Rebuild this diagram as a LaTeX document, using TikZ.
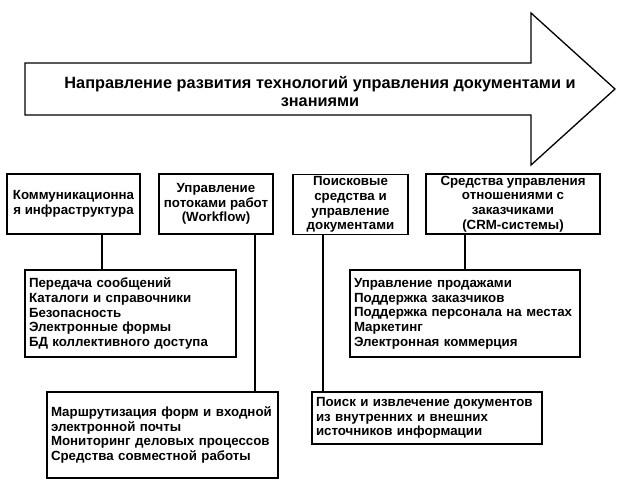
\documentclass[tikz,border=0pt]{standalone}
\usepackage{fontspec}
\setmainfont{Liberation Sans}
\begin{document}
\begin{tikzpicture}[x=1pt,y=-1pt,
  every node/.style={font=\bfseries\fontsize{13.3}{14.7}\selectfont},
  outline/.style={draw=black,line width=1.3pt},
  topbox/.style={outline,inner sep=0pt,align=center,minimum height=60pt},
  listbox/.style={outline,inner xsep=4pt,inner ysep=0pt,align=left},
  link/.style={draw=black,line width=1.3pt}]
\useasboundingbox (0,0) rectangle (617,480);
% big arrow
\draw[outline,line join=miter] (25,63) -- (531,63) -- (531,13) -- (615,89) -- (531,165) -- (531,115) -- (25,115) -- cycle;
\node[align=center,font=\bfseries\fontsize{16.3}{18}\selectfont] (title) at (320,91.5)
  {Направление развития технологий управления документами и\\знаниями};
% top boxes
\node[topbox,minimum width=133pt] (b1) at (73.5,204) {Коммуникационна\\я инфраструктура};
\node[topbox,minimum width=114pt] (b2) at (216,204) {Управление\\потоками работ\\(Workflow)};
\node[topbox,minimum width=115pt] (b3) at (350.5,204.5) {Поисковые\\средства и\\управление\\документами};
\node[topbox,minimum width=174pt] (b4) at (513,204) {Средства управления\\отношениями с\\заказчиками\\(CRM-системы)};
% list boxes
\node[listbox,text width=203pt,minimum height=87pt] (b5) at (130.5,313.5)
  {Передача сообщений\\Каталоги и справочники\\Безопасность\\Электронные формы\\БД коллективного доступа};
\node[listbox,text width=223pt,minimum height=86pt] (b6) at (162.5,435)
  {Маршрутизация форм и входной\\электронной почты\\Мониторинг деловых процессов\\Средства совместной работы};
\node[listbox,text width=222pt,minimum height=52pt] (b7) at (427,418)
  {Поиск и извлечение документов\\из внутренних и внешних\\источников информации};
\node[listbox,text width=222pt,minimum height=87pt] (b8) at (465,313.5)
  {Управление продажами\\Поддержка заказчиков\\Поддержка персонала на местах\\Маркетинг\\Электронная коммерция};
% connectors
\draw[link] ([xshift=28.5pt]b1.south) -- ([xshift=-28.5pt]b5.north);
\draw[link] ([xshift=39pt]b2.south) -- ([xshift=92.5pt]b6.north);
\draw[link] ([xshift=-27.5pt]b3.south) -- ([xshift=-104pt]b7.north);
\draw[link] ([xshift=-48pt]b4.south) -- (b8.north);
\end{tikzpicture}
\end{document}
